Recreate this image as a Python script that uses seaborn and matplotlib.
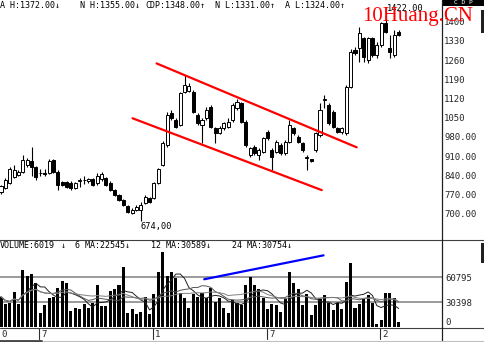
import matplotlib
matplotlib.use("Agg")
import numpy as np
import pandas as pd
import matplotlib.pyplot as plt
import seaborn as sns
from matplotlib.lines import Line2D
from matplotlib.patches import Rectangle

# ---------------- data ----------------
opens = [780, 795, 813, 835, 841, 853, 878, 893, 871, 850, 848, 847, 896, 853, 817, 817, 813, 793, 819, 823,
         819, 825, 811, 825, 829, 813, 786, 768, 750, 728, 702, 714, 714, 738, 756, 756, 812, 878, 950, 1066,
         1042, 1023, 1145, 1149, 1145, 1060, 1023, 1048, 1090, 1011, 996, 1011, 1017, 1042, 1084, 1102, 1036, 914, 944, 914,
         926, 999, 932, 926, 950, 920, 963, 1011, 981, 957, 908, 898, 932, 987, 1115, 1096, 1072, 1011, 999, 993,
         1163, 1297, 1303, 1339, 1260, 1339, 1279, 1315, 1394, 1303, 1279, 1364]
highs = [806, 830, 870, 878, 858, 914, 903, 944, 875, 862, 862, 901, 899, 858, 820, 820, 818, 815, 830, 836,
         830, 830, 848, 853, 835, 818, 790, 772, 755, 731, 720, 732, 742, 768, 762, 815, 866, 966, 1072, 1078,
         1048, 1145, 1206, 1175, 1150, 1066, 1048, 1090, 1096, 1017, 1020, 1036, 1048, 1102, 1120, 1108, 1040, 944, 950, 938,
         981, 1005, 938, 968, 956, 968, 1042, 1017, 987, 962, 914, 900, 999, 1102, 1133, 1102, 1078, 1017, 1017, 1169,
         1300, 1309, 1382, 1345, 1345, 1345, 1327, 1400, 1422, 1352, 1370, 1370]
lows = [772, 790, 808, 830, 836, 850, 872, 837, 822, 838, 838, 845, 850, 786, 800, 795, 788, 789, 799, 810,
        812, 800, 806, 820, 800, 782, 764, 745, 728, 704, 698, 710, 674, 734, 740, 752, 808, 873, 944, 1042,
        1012, 1018, 1140, 1145, 1066, 1024, 957, 1042, 1011, 957, 990, 1005, 1011, 1036, 1078, 1030, 944, 908, 914, 896,
        920, 970, 859, 920, 914, 914, 957, 987, 957, 926, 859, 890, 926, 981, 1085, 1024, 1011, 993, 990, 987,
        1157, 1279, 1254, 1254, 1248, 1273, 1267, 1309, 1358, 1267, 1273, 1348]
closes = [800, 822, 862, 859, 853, 896, 896, 871, 835, 847, 845, 893, 853, 805, 805, 799, 792, 811, 823, 822,
          826, 805, 837, 845, 805, 786, 768, 750, 732, 708, 714, 726, 732, 762, 744, 811, 862, 958, 1060, 1048,
          1017, 1139, 1169, 1166, 1072, 1030, 1042, 1078, 1017, 996, 1011, 1030, 1036, 1096, 1108, 1036, 950, 938, 920, 932,
          975, 975, 908, 963, 920, 963, 1023, 993, 963, 932, 902, 893, 993, 1078, 1118, 1030, 1017, 999, 1011, 1163,
          1291, 1285, 1358, 1273, 1339, 1279, 1315, 1394, 1364, 1291, 1352, 1352]
volumes = [37200, 27900, 29100, 43300, 27900, 69700, 62400, 64400, 53500, 17000, 27100, 35200, 37200, 47400, 56300,
           53500, 19800, 23900, 22300, 27900, 23900, 29100, 51400, 26300, 26300, 44100, 46200, 51400, 73700, 17000,
           21800, 16200, 19000, 36400, 16200, 40100, 67600, 91200, 62800, 66800, 59500, 41300, 35200, 23900, 40100,
           36400, 42100, 35200, 48200, 31200, 35200, 23100, 17800, 33200, 30000, 27100, 51400, 60800, 51400, 46200,
           35200, 21800, 27900, 27100, 19000, 35200, 67600, 54300, 46200, 27100, 40100, 15000, 27100, 34400, 39300,
           29100, 21000, 29100, 22300, 54700, 77800, 23100, 27900, 35200, 39300, 29100, 3600, 8900, 42100, 41300,
           35200, 6019]

ma_windows = [6, 12, 24]
ma_colors = ["#202020", "#555555", "#808080"]

# channel (trend) lines on the price panel: bar index / price
upper_x = [35.6, 81.4]
upper_y = [1248, 942]
lower_x = [30.1, 73.4]
lower_y = [1048, 786]
# blue trend line on the volume panel: bar index / volume
blue_x = [46.5, 73.8]
blue_y = [58400, 87500]

price_ticks = [700, 770, 840, 910, 980, 1050, 1120, 1190, 1260, 1330, 1400]
price_tick_labels = ["700.00", "770.00", "840.00", "910.00", "980.00", "1050", "1120", "1190", "1260", "1330", "1400"]
vol_ticks = [0, 30398, 60795]
vol_tick_labels = ["0", "30398", "60795"]

date_starts = [9, 35, 61, 87]
date_labels = ["7", "1", "7", "2"]
first_date_label = "0"

header_top = ["A H:1372.00\u2193", "N H:1355.00\u2193", "CDP:1348.00\u2191", "N L:1331.00\u2191", "A L:1324.00\u2191"]
header_top_x = [0, 80, 145, 215, 285]
header_vol = ["VOLUME:6019", "\u2193", "6 MA:22545\u2193", "12 MA:30589\u2193", "24 MA:30754\u2193"]
header_vol_x = [0, 61, 75, 151, 232]

low_label = "674,00"
high_label = "1422.00"
watermark = "10Huang.CN"

# ---------------- figure ----------------
sns.set_style("white")
plt.rcParams["font.family"] = ["DejaVu Sans Mono", "DejaVu Sans"]
MONO = "DejaVu Sans Mono"

W, H = 484, 342
fig = plt.figure(figsize=(W / 100, H / 100), dpi=100)
fig.patch.set_facecolor("white")


def fx(x):
    return x / W


def fy(y):
    return 1 - y / H


XL = (-0.229, 100.8)
axp = fig.add_axes([0, fy(239), fx(441.5), 239 / H])
axv = fig.add_axes([0, fy(328), fx(441.5), 88 / H])
axd = fig.add_axes([0, fy(341), fx(441.5), 13 / H])
for a in (axp, axv, axd):
    a.set_facecolor("none")
    for s in a.spines.values():
        s.set_visible(False)

# ---- candles ----
idx = np.arange(len(opens))
o = np.array(opens, float)
c = np.array(closes, float)
hi = np.array(highs, float)
lo = np.array(lows, float)
up = c >= o
axp.vlines(idx, lo, hi, color="black", lw=0.8, zorder=2)
body_bottom = np.minimum(o, c)
body_h = np.maximum(np.abs(c - o), 2.5)
axp.bar(idx, body_h, bottom=body_bottom, width=0.7,
        color=np.where(up, "white", "black"), edgecolor="black", linewidth=0.7, zorder=3)

sns.lineplot(x=upper_x, y=upper_y, color="#ff0000", lw=1.6, ax=axp, zorder=5)
sns.lineplot(x=lower_x, y=lower_y, color="#ff0000", lw=1.6, ax=axp, zorder=5)

low_i = int(np.argmin(lo))
axp.annotate(low_label, xy=(low_i, lo[low_i]), xytext=(0, -1), textcoords="offset pixels",
             ha="left", va="top", fontsize=6.2, family=MONO, color="black")
high_i = int(np.argmax(hi))
axp.annotate(high_label, xy=(high_i, hi[high_i]), xytext=(1, 3), textcoords="offset pixels",
             ha="left", va="bottom", fontsize=6.2, family=MONO, color="black", zorder=1)

axp.set_xlim(*XL)
axp.set_ylim(607.8, 1479.2)
axp.set_xticks([])
axp.yaxis.tick_right()
axp.set_yticks(price_ticks)
axp.set_yticklabels(price_tick_labels, fontsize=6.5, family=MONO)
axp.tick_params(axis="y", length=0, pad=2)
axp.set_xlabel("")
axp.set_ylabel("")

# ---- volume ----
sns.barplot(x=idx, y=volumes, color="black", saturation=1, width=0.7, errorbar=None,
            linewidth=0, ax=axv, zorder=2)
axv.axhline(60795, color="#8a8a8a", lw=1.2, zorder=1)
axv.axhline(30398, color="#8a8a8a", lw=1.2, zorder=1)
vs = pd.Series(volumes, dtype=float)
for win, col in zip(ma_windows, ma_colors):
    sns.lineplot(x=idx, y=vs.rolling(win, min_periods=1).mean().values, color=col, lw=0.7, ax=axv, zorder=4)
sns.lineplot(x=blue_x, y=blue_y, color="#0000ff", lw=1.6, ax=axv, zorder=5)
axv.set_xlim(*XL)
axv.set_ylim(-851, 106150)
axv.set_xticks([])
axv.yaxis.tick_right()
axv.set_yticks(vol_ticks)
axv.set_yticklabels(vol_tick_labels, fontsize=6.5, family=MONO)
axv.tick_params(axis="y", length=0, pad=3)
for lab in axv.get_yticklabels():
    if lab.get_text() == "0":
        lab.set_va("bottom")
axv.set_xlabel("")
axv.set_ylabel("")

# ---- date row ----
axd.set_xlim(*XL)
axd.set_ylim(0, 1)
axd.set_xticks([])
axd.set_yticks([])
for pos, lab in zip(date_starts, date_labels):
    axd.axvline(pos - 0.23, ymin=0.15, ymax=1.0, color="#303030", lw=0.8)
    axd.text(pos + 0.32, 0.5, lab, ha="left", va="center", fontsize=6.5, family=MONO)
axd.text(0.0, 0.5, first_date_label, ha="left", va="center", fontsize=6.5, family=MONO)

# ---- frame lines ----
fig.add_artist(Line2D([0, 1], [fy(239.5), fy(239.5)], color="#404040", lw=0.8))
fig.add_artist(Line2D([0, 1], [fy(328), fy(328)], color="#404040", lw=0.8))
fig.add_artist(Line2D([fx(441.5), fx(441.5)], [fy(0), fy(341)], color="#202020", lw=0.9))
fig.add_artist(Line2D([0, 1], [fy(340.5), fy(340.5)], color="#c0c0c0", lw=0.8))
fig.add_artist(Line2D([0, fx(42)], [fy(340.5), fy(340.5)], color="#303030", lw=1.2))

# ---- headers ----
for s, x in zip(header_top, header_top_x):
    fig.text(fx(x), fy(0.5), s, ha="left", va="top", fontsize=6, family=MONO, color="black")
for s, x in zip(header_vol, header_vol_x):
    fig.text(fx(x), fy(245), s, ha="left", va="center", fontsize=6, family=MONO, color="black")

# C D P box at top right
fig.add_artist(Rectangle((fx(442), fy(5.5)), fx(42), 5.5 / H, facecolor="black", edgecolor="none"))
fig.text(fx(463), fy(2.8), "C D P", ha="center", va="center", fontsize=4.5, family=MONO, color="white")
fig.add_artist(Rectangle((fx(481), fy(33)), fx(3), 23 / H, facecolor="#202020", edgecolor="none"))
fig.add_artist(Rectangle((fx(481), fy(263)), fx(3), 20 / H, facecolor="#202020", edgecolor="none"))

# watermark
fig.text(fx(362), fy(21), watermark, ha="left", va="baseline", fontsize=15,
         family="Liberation Serif", color="#ff0000", zorder=10)

fig.savefig("out.png", dpi=100, facecolor="white")
